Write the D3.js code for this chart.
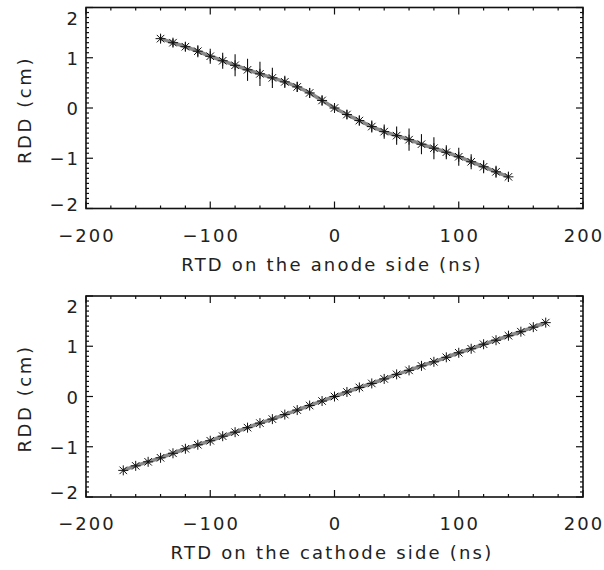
<!DOCTYPE html>
<html>
<head>
<meta charset="utf-8">
<script src="https://cdn.jsdelivr.net/npm/d3@7"></script>
<style>
  body { margin: 0; background: #fff; }
  text { font-family: "DejaVu Sans", sans-serif; fill: #222; }
</style>
</head>
<body>
<div id="chart"></div>
<script>
//************* data ***************/
var anodeRTD = [-140,-130,-120,-110,-100,-90,-80,-70,-60,-50,-40,-30,-20,-10,0,
                10,20,30,40,50,60,70,80,90,100,110,120,130,140];
var anodeRDD = [1.38,1.30,1.22,1.13,1.03,0.94,0.85,0.76,0.68,0.60,0.52,0.42,0.30,0.15,0.0,
                -0.13,-0.25,-0.37,-0.47,-0.55,-0.63,-0.72,-0.80,-0.88,-0.97,-1.07,-1.17,-1.27,-1.37];
var anodeErr = [0.08,0.08,0.09,0.12,0.15,0.16,0.22,0.22,0.24,0.20,0.12,0.10,0.10,0.10,0.09,
                0.09,0.10,0.12,0.14,0.18,0.22,0.20,0.22,0.14,0.18,0.15,0.13,0.12,0.10];

var cathodeRTD = [-170,-160,-150,-140,-130,-120,-110,-100,-90,-80,-70,-60,-50,-40,-30,-20,-10,0,
                  10,20,30,40,50,60,70,80,90,100,110,120,130,140,150,160,170];
var cathodeRDD = [-1.47,-1.38,-1.30,-1.22,-1.13,-1.04,-0.96,-0.88,-0.79,-0.71,-0.62,-0.53,-0.45,-0.36,-0.27,-0.18,-0.09,0.0,
                  0.09,0.18,0.26,0.35,0.44,0.52,0.61,0.69,0.78,0.87,0.95,1.04,1.12,1.21,1.29,1.38,1.47];

var xTicks = [-200, -100, 0, 100, 200];
var yTicks = [-2, -1, 0, 1, 2];

//************* dimensions ***************/
var W = 604, H = 570;
var svg = d3.select("#chart").append("svg")
    .attr("width", W).attr("height", H);

var x = d3.scaleLinear().domain([-200, 200]).range([86, 583]);

function fmt(d){ return d < 0 ? "\u2212" + Math.abs(d) : "" + d; }

function panel(top, bottom, xs, ys, errs, label){
  var y = d3.scaleLinear().domain([-2, 2]).range([bottom, top]);
  var g = svg.append("g");

  // fit line
  var line = d3.line()
      .x(function(d, i){ return x(xs[i]); })
      .y(function(d){ return y(d); })
      .curve(d3.curveMonotoneX);
  g.append("path")
    .datum(ys)
    .attr("d", line)
    .attr("fill", "none")
    .attr("stroke", "#8a8a8a")
    .attr("stroke-width", 3.6);

  // error bars
  if (errs) {
    g.selectAll(".err").data(errs).enter()
      .append("line")
        .attr("x1", function(d, i){ return x(xs[i]); })
        .attr("x2", function(d, i){ return x(xs[i]); })
        .attr("y1", function(d, i){ return y(ys[i] + d); })
        .attr("y2", function(d, i){ return y(ys[i] - d); })
        .attr("stroke", "#111")
        .attr("stroke-width", 1.1);
  }

  // asterisk markers
  var r = 5, rd = r * 0.75;
  var star = "M0," + (-r) + "V" + r + "M" + (-r) + ",0H" + r +
             "M" + (-rd) + "," + (-rd) + "L" + rd + "," + rd +
             "M" + (-rd) + "," + rd + "L" + rd + "," + (-rd);
  g.selectAll(".pt").data(ys).enter()
    .append("path")
      .attr("transform", function(d, i){ return "translate(" + x(xs[i]) + "," + y(d) + ")"; })
      .attr("d", star)
      .attr("stroke", "#111")
      .attr("stroke-width", 1)
      .attr("fill", "none");

  // ticks on all four sides
  var xMinor = d3.range(-200, 201, 20);
  var yMinor = d3.range(-20, 21).map(function(d){ return d / 10; });
  var tk = g.append("g").attr("stroke", "#111").attr("stroke-width", 1.2);
  xMinor.forEach(function(v){
    var len = (v % 100 === 0) ? 7 : 3;
    tk.append("line").attr("x1", x(v)).attr("x2", x(v)).attr("y1", bottom).attr("y2", bottom - len);
    tk.append("line").attr("x1", x(v)).attr("x2", x(v)).attr("y1", top).attr("y2", top + len);
  });
  yMinor.forEach(function(v){
    var len = (Math.abs(v - Math.round(v)) < 1e-6) ? 7 : 3;
    tk.append("line").attr("x1", 86).attr("x2", 86 + len).attr("y1", y(v)).attr("y2", y(v));
    tk.append("line").attr("x1", 583).attr("x2", 583 - len).attr("y1", y(v)).attr("y2", y(v));
  });

  // frame
  g.append("rect")
    .attr("x", 86).attr("y", top)
    .attr("width", 583 - 86).attr("height", bottom - top)
    .attr("fill", "none").attr("stroke", "#111").attr("stroke-width", 1.6);

  // tick labels
  g.selectAll(".xl").data(xTicks).enter()
    .append("text")
      .attr("x", function(d){ return x(d) + 1; })
      .attr("y", bottom + 33)
      .attr("text-anchor", "middle")
      .attr("font-size", "18px")
      .attr("letter-spacing", "2px")
      .text(fmt);
  g.selectAll(".yl").data(yTicks).enter()
    .append("text")
      .attr("x", 80)
      .attr("y", function(d){
        var p = y(d) + 7;
        if (d === 2) p = top + 17;
        if (d === -2) p = bottom + 2;
        return p;
      })
      .attr("text-anchor", "end")
      .attr("font-size", "18px")
      .attr("letter-spacing", "2px")
      .text(fmt);

  // axis titles
  g.append("text")
    .attr("x", 332)
    .attr("y", bottom + 62)
    .attr("text-anchor", "middle")
    .attr("font-size", "18px")
    .attr("letter-spacing", "2.2px")
    .text(label);
  g.append("text")
    .attr("transform", "translate(31," + ((top + bottom) / 2 + 2) + ") rotate(-90)")
    .attr("text-anchor", "middle")
    .attr("font-size", "18px")
    .attr("letter-spacing", "2.6px")
    .text("RDD (cm)");
}

panel(7.5, 208.5, anodeRTD, anodeRDD, anodeErr, "RTD on the anode side (ns)");
panel(296, 497, cathodeRTD, cathodeRDD, null, "RTD on the cathode side (ns)");
</script>
</body>
</html>
